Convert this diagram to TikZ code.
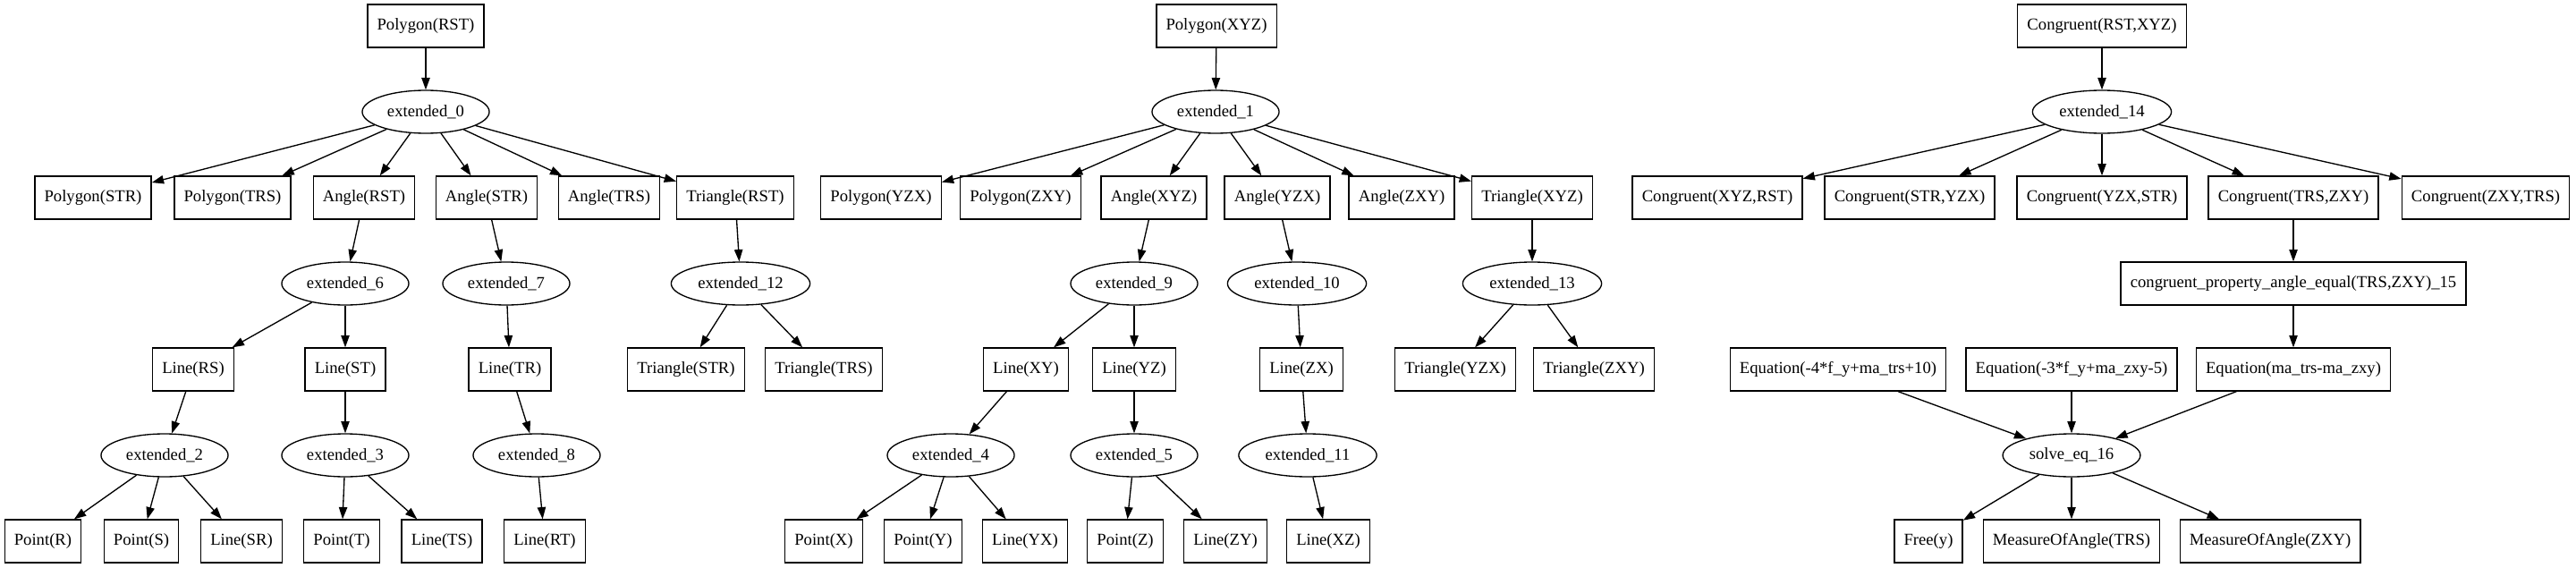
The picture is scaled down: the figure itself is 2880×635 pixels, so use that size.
\documentclass[tikz,border=0pt]{standalone}
\usepackage{fontspec}
\setmainfont{Liberation Serif}
\usetikzlibrary{shapes.geometric,arrows.meta}

\begin{document}
\begin{tikzpicture}[x=0.75pt, y=-0.75pt,
  kutu/.style={draw, rectangle, line width=1pt, minimum height=36pt, minimum width=54pt,
               inner xsep=8pt, font=\fontsize{14}{16}\selectfont},
  oval/.style={draw, ellipse, line width=1pt, minimum height=36pt,
               inner xsep=5.4pt, font=\fontsize{14}{16}\selectfont},
  ok/.style={-{Triangle[length=10pt, width=7pt]}, line width=1pt}
]
\useasboundingbox (0,0) rectangle (2880,635);

% first tree: RST
\node[kutu] (prst) at (476,29)  {Polygon(RST)};
\node[oval] (e0)   at (476,125) {extended\_0};
\node[kutu] (pstr) at (104,221) {Polygon(STR)};
\node[kutu] (ptrs) at (260,221) {Polygon(TRS)};
\node[kutu] (arst) at (407,221) {Angle(RST)};
\node[kutu] (astr) at (544,221) {Angle(STR)};
\node[kutu] (atrs) at (681,221) {Angle(TRS)};
\node[kutu] (trst) at (822,221) {Triangle(RST)};
\node[oval] (e6)   at (386,317) {extended\_6};
\node[oval] (e7)   at (566,317) {extended\_7};
\node[oval] (e12)  at (828,317) {extended\_12};
\node[kutu] (lrs)  at (216,413) {Line(RS)};
\node[kutu] (lst)  at (386,413) {Line(ST)};
\node[kutu] (ltr)  at (570,413) {Line(TR)};
\node[kutu] (tstr) at (767,413) {Triangle(STR)};
\node[kutu] (ttrs) at (921,413) {Triangle(TRS)};
\node[oval] (e2)   at (184,509) {extended\_2};
\node[oval] (e3)   at (386,509) {extended\_3};
\node[oval] (e8)   at (600,509) {extended\_8};
\node[kutu] (ptr)  at (48,605)  {Point(R)};
\node[kutu] (pts)  at (158,605) {Point(S)};
\node[kutu] (lsr)  at (270,605) {Line(SR)};
\node[kutu] (ptt)  at (382,605) {Point(T)};
\node[kutu] (lts)  at (494,605) {Line(TS)};
\node[kutu] (lrt)  at (609,605) {Line(RT)};

% second tree: XYZ
\node[kutu] (pxyz) at (1360,29)  {Polygon(XYZ)};
\node[oval] (e1)   at (1359,125) {extended\_1};
\node[kutu] (pyzx) at (985,221)  {Polygon(YZX)};
\node[kutu] (pzxy) at (1141,221) {Polygon(ZXY)};
\node[kutu] (axyz) at (1290,221) {Angle(XYZ)};
\node[kutu] (ayzx) at (1428,221) {Angle(YZX)};
\node[kutu] (azxy) at (1567,221) {Angle(ZXY)};
\node[kutu] (txyz) at (1713,221) {Triangle(XYZ)};
\node[oval] (e9)   at (1268,317) {extended\_9};
\node[oval] (e10)  at (1450,317) {extended\_10};
\node[oval] (e13)  at (1713,317) {extended\_13};
\node[kutu] (lxy)  at (1147,413) {Line(XY)};
\node[kutu] (lyz)  at (1268,413) {Line(YZ)};
\node[kutu] (lzx)  at (1455,413) {Line(ZX)};
\node[kutu] (tyzx) at (1627,413) {Triangle(YZX)};
\node[kutu] (tzxy) at (1782,413) {Triangle(ZXY)};
\node[oval] (e4)   at (1063,509) {extended\_4};
\node[oval] (e5)   at (1268,509) {extended\_5};
\node[oval] (e11)  at (1462,509) {extended\_11};
\node[kutu] (ptx)  at (921,605)  {Point(X)};
\node[kutu] (pty)  at (1032,605) {Point(Y)};
\node[kutu] (lyx)  at (1146,605) {Line(YX)};
\node[kutu] (ptz)  at (1258,605) {Point(Z)};
\node[kutu] (lzy)  at (1370,605) {Line(ZY)};
\node[kutu] (lxz)  at (1485,605) {Line(XZ)};

% third tree: congruence
\node[kutu] (crx)  at (2350,29)  {Congruent(RST,XYZ)};
\node[oval] (e14)  at (2350,125) {extended\_14};
\node[kutu] (c1)   at (1920,221) {Congruent(XYZ,RST)};
\node[kutu] (c2)   at (2135,221) {Congruent(STR,YZX)};
\node[kutu] (c3)   at (2350,221) {Congruent(YZX,STR)};
\node[kutu] (c4)   at (2564,221) {Congruent(TRS,ZXY)};
\node[kutu] (c5)   at (2779,221) {Congruent(ZXY,TRS)};
\node[kutu] (cpa)  at (2564,317) {congruent\_property\_angle\_equal(TRS,ZXY)\_15};
\node[kutu] (eqa)  at (2055,413) {Equation(-4*f\_y+ma\_trs+10)};
\node[kutu] (eqb)  at (2316,413) {Equation(-3*f\_y+ma\_zxy-5)};
\node[kutu] (eqc)  at (2564,413) {Equation(ma\_trs-ma\_zxy)};
\node[oval] (s16)  at (2316,509) {solve\_eq\_16};
\node[kutu] (fy)   at (2156,605) {Free(y)};
\node[kutu] (mtrs) at (2316,605) {MeasureOfAngle(TRS)};
\node[kutu] (mzxy) at (2538,605) {MeasureOfAngle(ZXY)};

\draw[ok] (prst) -- (e0);
\foreach \n in {pstr,ptrs,arst,astr,atrs,trst} \draw[ok] (e0) -- (\n);
\draw[ok] (arst) -- (e6);
\draw[ok] (astr) -- (e7);
\draw[ok] (trst) -- (e12);
\draw[ok] (e6) -- (lrs);
\draw[ok] (e6) -- (lst);
\draw[ok] (e7) -- (ltr);
\draw[ok] (e12) -- (tstr);
\draw[ok] (e12) -- (ttrs);
\draw[ok] (lrs) -- (e2);
\draw[ok] (lst) -- (e3);
\draw[ok] (ltr) -- (e8);
\foreach \n in {ptr,pts,lsr} \draw[ok] (e2) -- (\n);
\draw[ok] (e3) -- (ptt);
\draw[ok] (e3) -- (lts);
\draw[ok] (e8) -- (lrt);

\draw[ok] (pxyz) -- (e1);
\foreach \n in {pyzx,pzxy,axyz,ayzx,azxy,txyz} \draw[ok] (e1) -- (\n);
\draw[ok] (axyz) -- (e9);
\draw[ok] (ayzx) -- (e10);
\draw[ok] (txyz) -- (e13);
\draw[ok] (e9) -- (lxy);
\draw[ok] (e9) -- (lyz);
\draw[ok] (e10) -- (lzx);
\draw[ok] (e13) -- (tyzx);
\draw[ok] (e13) -- (tzxy);
\draw[ok] (lxy) -- (e4);
\draw[ok] (lyz) -- (e5);
\draw[ok] (lzx) -- (e11);
\foreach \n in {ptx,pty,lyx} \draw[ok] (e4) -- (\n);
\draw[ok] (e5) -- (ptz);
\draw[ok] (e5) -- (lzy);
\draw[ok] (e11) -- (lxz);

\draw[ok] (crx) -- (e14);
\foreach \n in {c1,c2,c3,c4,c5} \draw[ok] (e14) -- (\n);
\draw[ok] (c4) -- (cpa);
\draw[ok] (cpa) -- (eqc);
\foreach \n in {eqa,eqb,eqc} \draw[ok] (\n) -- (s16);
\foreach \n in {fy,mtrs,mzxy} \draw[ok] (s16) -- (\n);
\end{tikzpicture}
\end{document}
